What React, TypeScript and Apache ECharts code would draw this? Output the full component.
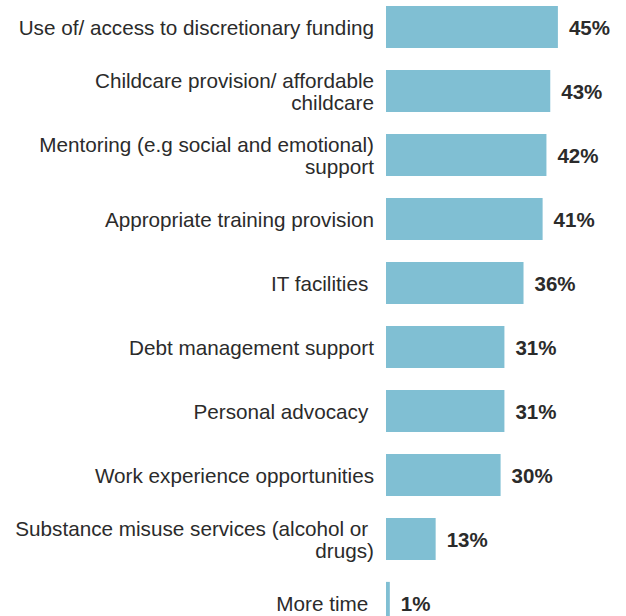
import React, { useEffect, useRef } from "react";
import * as echarts from "echarts";

const categories = [
  "Use of/ access to discretionary funding",
  "Childcare provision/ affordable\nchildcare",
  "Mentoring (e.g social and emotional)\nsupport",
  "Appropriate training provision",
  "IT facilities ",
  "Debt management support",
  "Personal advocacy ",
  "Work experience opportunities",
  "Substance misuse services (alcohol or \ndrugs)",
  "More time ",
];
const values = [45, 43, 42, 41, 36, 31, 31, 30, 13, 1];

export default function App() {
  const ref = useRef<HTMLDivElement>(null);
  useEffect(() => {
    const chart = echarts.init(ref.current!, null, { renderer: "svg" });
    chart.setOption({
      animation: false,
      grid: {
        left: 386,
        right: 49,
        top: -5,
        bottom: -19,
        containLabel: false,
        outerBoundsMode: "none",
      },
      xAxis: {
        type: "value",
        min: 0,
        max: 50,
        show: false,
      },
      yAxis: {
        type: "category",
        inverse: true,
        data: categories,
        axisLine: { show: false },
        axisTick: { show: false },
        axisLabel: {
          margin: 12,
          fontFamily: "Liberation Sans, Arial, sans-serif",
          fontSize: 20.7,
          color: "#2b2b2b",
          lineHeight: 22,
          align: "right",
        },
      },
      series: [
        {
          type: "bar",
          data: values,
          barCategoryGap: "34%",
          itemStyle: { color: "#80bfd3" },
          label: {
            show: true,
            position: "right",
            distance: 11,
            formatter: "{c}%",
            fontFamily: "Liberation Sans, Arial, sans-serif",
            fontSize: 20.5,
            fontWeight: "bold",
            color: "#2b2b2b",
          },
        },
      ],
    });
    return () => chart.dispose();
  }, []);
  return (
    <div
      ref={ref}
      style={{ position: "absolute", left: 0, top: 0, width: 626, height: 616, overflow: "hidden" }}
    />
  );
}
